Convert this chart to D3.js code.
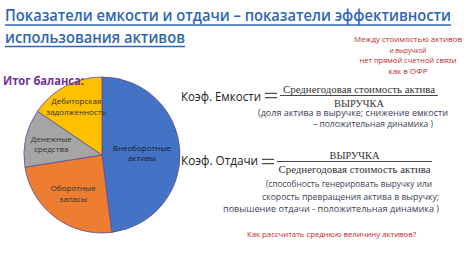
<!DOCTYPE html>
<html>
<head>
<meta charset="utf-8">
<script src="https://cdn.jsdelivr.net/npm/d3@7"></script>
<style>
  body { margin: 0; background: #fff; }
  text { font-family: "Open Sans", "Noto Sans", sans-serif; }
</style>
</head>
<body>
<div id="chart"></div>
<script>
// chart size
const width = 474;
const height = 265;

// pie data (clockwise from 12 o'clock)
const categories = ["Внеоборотные активы", "Оборотные запасы", "Денежные средства", "Дебиторская задолженность"];
const values = [48, 24.5, 12, 15.5];
const sliceColors = ["#4472C4", "#ED7D31", "#A5A5A5", "#FFC000"];
// label lines for each slice
const sliceLabels = [["Внеоборотные", "активы"], ["Оборотные", "запасы"], ["Денежные", "средства"], ["Дебиторская", "задолженность"]];

// texts
const titleLines = ["Показатели емкости и отдачи – показатели эффективности", "использования активов"];
const noteLines = ["Между стоимостью активов", "и выручкой", "нет прямой счетной связи", "как в  ОФР"];
const capacityNotes = ["(доля актива  в выручке; снижение емкости", "– положительная динамика )"];
const returnNotes = ["(способность генерировать выручку или", "скорость превращения актива в выручку;", "повышение отдачи -  положительная динамика )"];

const svg = d3.select("#chart")
  .append("svg")
  .attr("width", width)
  .attr("height", height);

svg.append("rect").attr("width", width).attr("height", height).attr("fill", "#fff");

// title, underlined
const titleColor = "#2F66B3";
const titleLayout = [
  { x: 5, y: 21, len: 446, ul: 25 },
  { x: 5, y: 42.5, len: 180, ul: 46.5 }
];
titleLines.forEach((t, i) => {
  const l = titleLayout[i];
  svg.append("text")
    .attr("x", l.x).attr("y", l.y)
    .attr("font-size", 15.5)
    .attr("font-weight", 600)
    .attr("fill", titleColor)
    .attr("textLength", l.len)
    .attr("lengthAdjust", "spacingAndGlyphs")
    .text(t);
  svg.append("line")
    .attr("x1", l.x).attr("x2", l.x + l.len)
    .attr("y1", l.ul).attr("y2", l.ul)
    .attr("stroke", titleColor).attr("stroke-width", 1.3);
});

// pie
const cx = 102, cy = 155, radius = 78;
const pie = d3.pie().sort(null).value((d) => d);
const arc = d3.arc().innerRadius(0).outerRadius(radius);
const arcs = pie(values);
const labelR = [40, 48, 52, 55];

const g = svg.append("g").attr("transform", `translate(${cx},${cy})`);
g.selectAll("path")
  .data(arcs)
  .enter()
  .append("path")
  .attr("d", arc)
  .attr("fill", (d, i) => sliceColors[i])
  .attr("stroke", "#5E4A8E")
  .attr("stroke-width", 0.8);

arcs.forEach((d, i) => {
  const c = d3.arc().innerRadius(labelR[i]).outerRadius(labelR[i]).centroid(d);
  const t = g.append("text")
    .attr("x", c[0]).attr("y", c[1])
    .attr("text-anchor", "middle")
    .attr("font-size", 8)
    .attr("fill", i === 0 ? "#1a1a2e" : "#333");
  sliceLabels[i].forEach((s, k) => {
    t.append("tspan")
      .attr("x", c[0])
      .attr("dy", k === 0 ? -2 : 10.5)
      .text(s);
  });
});

// "Итог баланса:" sits on top of the pie
svg.append("text")
  .attr("x", 3).attr("y", 85)
  .attr("font-size", 13)
  .attr("font-weight", 700)
  .attr("fill", "#7030A0")
  .attr("textLength", 81)
  .attr("lengthAdjust", "spacingAndGlyphs")
  .text("Итог баланса:");

// red note top right, centred
const noteWidths = [108, 37, 97, 39];
noteLines.forEach((s, i) => {
  svg.append("text")
    .attr("x", 408).attr("y", 42 + i * 10.5)
    .attr("text-anchor", "middle")
    .attr("font-size", 8)
    .attr("fill", "#C0272D")
    .attr("textLength", noteWidths[i])
    .attr("lengthAdjust", "spacingAndGlyphs")
    .text(s);
});

// formula helper
function formula(label, labelY, num, den, lineY, lineX1, lineX2, labelX2) {
  svg.append("text")
    .attr("x", 181).attr("y", labelY)
    .attr("font-size", 13)
    .attr("fill", "#222")
    .attr("textLength", labelX2 - 181)
    .attr("lengthAdjust", "spacingAndGlyphs")
    .text(label);
  // equals sign
  [-2.2, 2.2].forEach((o) => {
    svg.append("line")
      .attr("x1", labelX2 + 4).attr("x2", labelX2 + 16)
      .attr("y1", lineY + o).attr("y2", lineY + o)
      .attr("stroke", "#222").attr("stroke-width", 1);
  });
  svg.append("line")
    .attr("x1", lineX1).attr("x2", lineX2)
    .attr("y1", lineY).attr("y2", lineY)
    .attr("stroke", "#333").attr("stroke-width", 0.9);
  const mid = (lineX1 + lineX2) / 2;
  [num, den].forEach((s, i) => {
    const long = s.length > 10;
    svg.append("text")
      .attr("x", mid).attr("y", i === 0 ? lineY - 3 : lineY + 11)
      .attr("text-anchor", "middle")
      .style("font-family", "'Liberation Serif', 'DejaVu Serif', serif")
      .attr("font-size", 10.5)
      .attr("fill", "#333")
      .attr("textLength", long ? 152 : 50)
      .attr("lengthAdjust", "spacingAndGlyphs")
      .text(s);
  });
}

formula("Коэф. Емкости", 100.5, "Среднегодовая стоимость актива", "ВЫРУЧКА", 95.5, 280, 438, 261);
formula("Коэф. Отдачи", 164.5, "ВЫРУЧКА", "Среднегодовая стоимость актива", 161.5, 277, 432, 258);

// notes under formulas
const noteColor = "#3B3F55";
const capLayout = [{ x: 258, y: 116, len: 190 }, { x: 313, y: 127, len: 120 }];
capacityNotes.forEach((s, i) => {
  svg.append("text")
    .attr("x", capLayout[i].x).attr("y", capLayout[i].y)
    .attr("font-size", 8.6)
    .attr("fill", noteColor)
    .attr("textLength", capLayout[i].len)
    .attr("lengthAdjust", "spacingAndGlyphs")
    .text(s);
});
const retLayout = [{ x: 266, y: 187, len: 166 }, { x: 262, y: 199.5, len: 177 }, { x: 223, y: 212, len: 216 }];
returnNotes.forEach((s, i) => {
  svg.append("text")
    .attr("x", retLayout[i].x).attr("y", retLayout[i].y)
    .attr("font-size", 8.6)
    .attr("fill", noteColor)
    .attr("textLength", retLayout[i].len)
    .attr("lengthAdjust", "spacingAndGlyphs")
    .text(s);
});

// question
svg.append("text")
  .attr("x", 247).attr("y", 236.5)
  .attr("font-size", 7.8)
  .attr("fill", "#C0272D")
  .attr("textLength", 169)
  .attr("lengthAdjust", "spacingAndGlyphs")
  .text("Как рассчитать среднюю величину активов?");
</script>
</body>
</html>
